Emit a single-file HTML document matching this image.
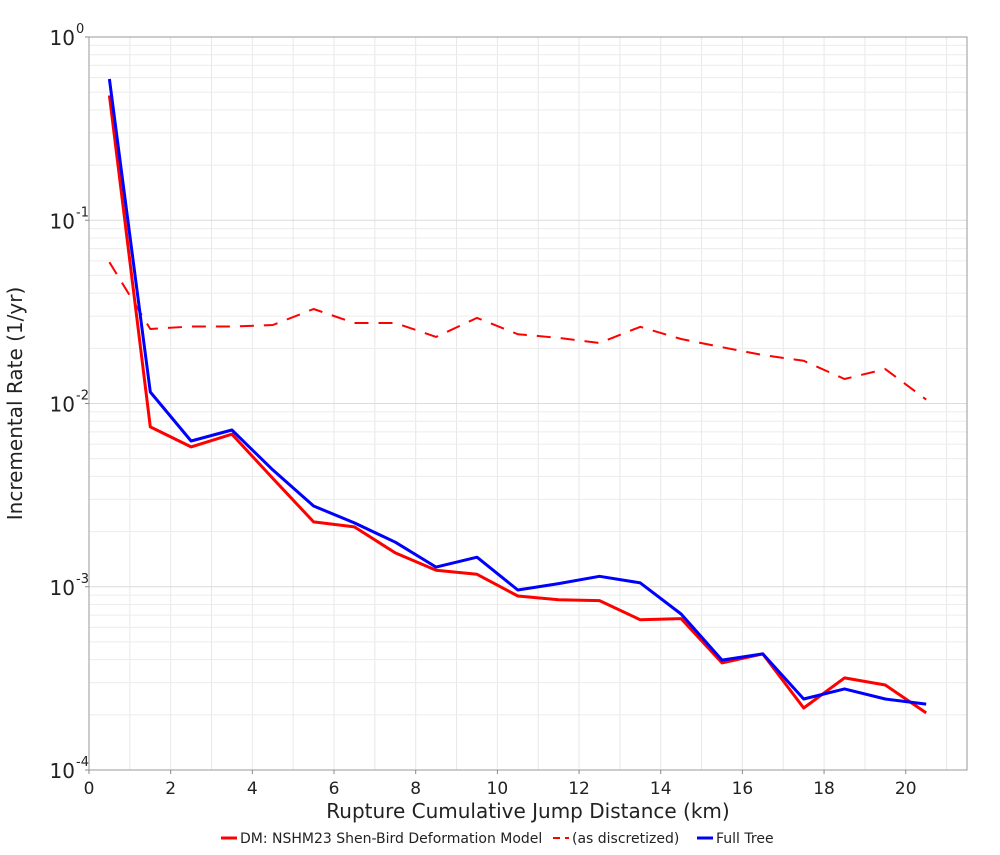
<!DOCTYPE html>
<html><head><meta charset="utf-8"><style>
body{margin:0;background:#fff;font-family:"Liberation Sans","DejaVu Sans",sans-serif;}
svg text{font-family:"DejaVu Sans","Liberation Sans",sans-serif;}
</style></head><body>
<svg id="chart" width="1000" height="850"></svg>
<script>
const xCats=[0.5,1.5,2.5,3.5,4.5,5.5,6.5,7.5,8.5,9.5,10.5,11.5,12.5,13.5,14.5,15.5,16.5,17.5,18.5,19.5,20.5];
const dmValues=[0.48,0.00745,0.0058,0.0068,0.0039,0.00226,0.00212,0.00153,0.00123,0.00117,0.00089,0.00085,0.00084,0.00066,0.00067,0.000384,0.00043,0.000218,0.000318,0.000291,0.000205];
const discValues=[0.059,0.0255,0.0263,0.0263,0.0268,0.0328,0.0275,0.0275,0.0231,0.0293,0.0239,0.0228,0.0214,0.0262,0.0225,0.0203,0.0184,0.0171,0.0136,0.0154,0.0105];
const fullValues=[0.59,0.01155,0.00624,0.00717,0.00434,0.00276,0.00223,0.00175,0.00128,0.00145,0.00096,0.00104,0.00114,0.00105,0.00071,0.000398,0.00043,0.000244,0.000277,0.000244,0.000229];
const xTicks=[0,2,4,6,8,10,12,14,16,18,20];
const yExps=[0,-1,-2,-3,-4];

const L=89,R=967,T=37,B=770,XMAX=21.5,YMIN=-4,YMAX=0;
const NS="http://www.w3.org/2000/svg";
const svg=document.getElementById('chart');
const xs=v=>L+(v/XMAX)*(R-L);
const ys=v=>T+(YMAX-Math.log10(v))/(YMAX-YMIN)*(B-T);
function mk(tag,attrs,parent){const e=document.createElementNS(NS,tag);for(const k in attrs)e.setAttribute(k,attrs[k]);(parent||svg).appendChild(e);return e;}

const grid=mk('g',{});


for(let x=1;x<XMAX;x++){mk('line',{x1:xs(x),x2:xs(x),y1:T,y2:B,stroke:'#e8e8e8','stroke-width':1},grid);}
for(let e=YMIN;e<YMAX;e++){for(let m=1;m<10;m++){const v=m*Math.pow(10,e);mk('line',{x1:L,x2:R,y1:ys(v),y2:ys(v),stroke:m==1?'#dcdcdc':'#ececec','stroke-width':1},grid);}}

const frame=mk('rect',{x:L,y:T,width:R-L,height:B-T,fill:'none',stroke:'#999','stroke-width':1});



xTicks.forEach(t=>{
 mk('line',{x1:xs(t),x2:xs(t),y1:B,y2:B+4,stroke:'#888'});
 const tx=mk('text',{x:xs(t),y:B+24,'text-anchor':'middle','font-size':17,fill:'#222'});
 tx.textContent=t;
 
 
});
yExps.forEach(e=>{
 const y=ys(Math.pow(10,e));
 mk('line',{x1:L-4,x2:L,y1:y,y2:y,stroke:'#888'});
 const tx=mk('text',{x:L-14,y:y+8,'text-anchor':'end','font-size':20,fill:'#222'});
 tx.textContent='10';
 
 
 const sp=mk('text',{x:L-13,y:y-4,'text-anchor':'start','font-size':13,fill:'#222'});
 sp.textContent=String(e);
 
 
});

function series(vals,color,dash,name,w){
 const d=vals.map((v,i)=>(i?'L':'M')+xs(xCats[i]).toFixed(1)+','+ys(v).toFixed(1)).join(' ');
 const p=mk('path',{d:d,fill:'none',stroke:color,'stroke-width':w||3,'stroke-dasharray':dash||'none','stroke-linejoin':'round'});
 
 
}
series(discValues,'#f00','14,10','series-as-discretized',2);
series(dmValues,'#f00',null,'series-dm-shen-bird');
series(fullValues,'#00f',null,'series-full-tree');

const xt=mk('text',{x:(L+R)/2,y:818,'text-anchor':'middle','font-size':20,fill:'#222'});
xt.textContent='Rupture Cumulative Jump Distance (km)';


const yt=mk('text',{x:0,y:0,'text-anchor':'middle','font-size':20,fill:'#222',transform:'translate(22,'+((T+B)/2)+') rotate(-90)'});
yt.textContent='Incremental Rate (1/yr)';



const leg=mk('g',{});


const items=[[221,'#f00',null,'DM: NSHM23 Shen-Bird Deformation Model',3],[553,'#f00','7,5','(as discretized)',2],[697,'#00f',null,'Full Tree',3]];
items.forEach(it=>{
 mk('line',{x1:it[0],x2:it[0]+16,y1:838,y2:838,stroke:it[1],'stroke-width':it[4],'stroke-dasharray':it[2]||'none'},leg);
 const t=mk('text',{x:it[0]+19,y:843,'font-size':14,fill:'#222'},leg);
 t.textContent=it[3];
 
 
});
</script>
</body></html>
